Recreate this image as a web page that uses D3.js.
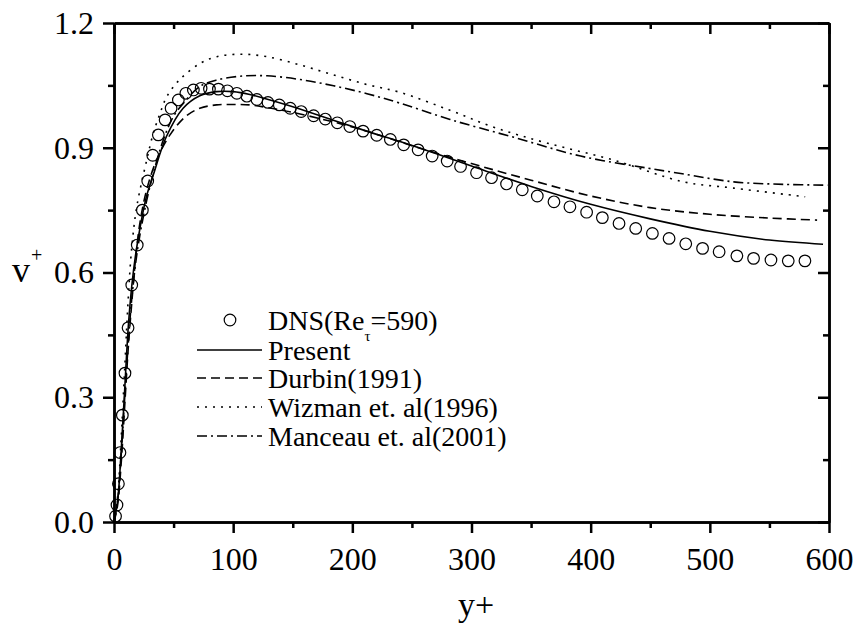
<!DOCTYPE html>
<html><head><meta charset="utf-8">
<script src="https://cdn.jsdelivr.net/npm/d3@7"></script>
<style>body{margin:0;background:#fff}svg{display:block}</style>
</head><body>
<svg id="chart" width="861" height="630"></svg>
<script>
// ---- data ----
const xTicks = [0, 100, 200, 300, 400, 500, 600];
const xMinor = [50, 150, 250, 350, 450, 550];
const yTicks = [0.0, 0.3, 0.6, 0.9, 1.2];
const yMinor = [0.15, 0.45, 0.75, 1.05];

const dnsX = [1.3,2.5,3.7,5.0,7.0,9.2,11.8,14.9,19.5,23.8,28.3,32.5,37.2,42.9,47.9,54.0,60.3,66.6,73.1,80.1,87.6,95.2,103.1,111.5,119.9,129.2,138.7,147.9,157.1,167.5,177.3,187.4,197.9,209.0,220.5,231.9,243.1,255.2,267.0,279.6,290.8,304.2,316.8,329.4,342.6,355.2,369.2,382.6,396.6,409.8,423.8,437.8,451.8,465.8,479.8,493.9,507.8,522.7,536.7,551.3,565.8,579.8];
const dnsY = [0.014,0.041,0.092,0.167,0.257,0.358,0.467,0.570,0.666,0.750,0.820,0.882,0.931,0.967,0.995,1.015,1.031,1.039,1.043,1.041,1.041,1.037,1.031,1.024,1.016,1.009,1.003,0.995,0.987,0.977,0.969,0.960,0.951,0.940,0.930,0.920,0.907,0.895,0.880,0.868,0.855,0.840,0.828,0.813,0.799,0.784,0.770,0.758,0.745,0.732,0.718,0.706,0.694,0.682,0.669,0.658,0.650,0.640,0.634,0.630,0.628,0.628];

const presentX = [0,3,6,9,12,15,18,22,27,33,44,58,72,86,100,114,128,156,184,212,240,270,300,350,400,450,500,550,595];
const presentY = [0,0.05,0.17,0.32,0.47,0.57,0.64,0.71,0.78,0.835,0.927,0.995,1.025,1.035,1.035,1.028,1.017,0.993,0.966,0.940,0.915,0.886,0.856,0.807,0.764,0.729,0.699,0.678,0.668];

const durbinX = [0,3,6,9,12,15,18,21.8,27.5,35.8,47,60,72,86,100,114,128,150,200,250,300,350,400,450,500,550,590];
const durbinY = [0,0.04,0.14,0.28,0.42,0.53,0.63,0.72,0.80,0.871,0.931,0.975,0.995,1.003,1.004,1.003,0.997,0.985,0.950,0.905,0.862,0.822,0.784,0.756,0.740,0.731,0.726];

const wizmanX = [0,3,6,9,12,14.9,19.1,27.5,33,38.7,44.3,55.5,72.3,86.3,105.9,128.3,156.3,184.3,212.3,240.3,282,320,363.7,419.6,478,520,580];
const wizmanY = [0,0.06,0.20,0.37,0.54,0.66,0.758,0.871,0.935,0.983,1.023,1.065,1.103,1.119,1.125,1.119,1.099,1.075,1.052,1.033,0.990,0.948,0.911,0.870,0.818,0.803,0.782];

const manceauX = [0,3,6,9,12,15,20,27.5,34.5,41.4,49.8,59.7,72.3,86.3,105.9,128.3,156.3,184.3,212.3,240.3,282,335.6,391.6,447.6,475.6,520,562,599];
const manceauY = [0,0.05,0.16,0.30,0.43,0.54,0.66,0.774,0.854,0.919,0.975,1.012,1.048,1.063,1.072,1.073,1.064,1.049,1.030,1.007,0.968,0.925,0.880,0.851,0.838,0.818,0.812,0.810];

const seriesNames = ["Present", "Durbin(1991)", "Wizman et. al(1996)", "Manceau et. al(2001)"];

// ---- chart ----
const svg = d3.select("#chart");
const FONT = "'Liberation Serif','Times New Roman',serif";
const xs = d3.scaleLinear().domain([0, 600]).range([114, 829]);
const ys = d3.scaleLinear().domain([0, 1.2]).range([522, 23]);

const series = [
  {name: seriesNames[0], xv: presentX, yv: presentY, dash: null},
  {name: seriesNames[1], xv: durbinX, yv: durbinY, dash: "9,5"},
  {name: seriesNames[2], xv: wizmanX, yv: wizmanY, dash: "2,6"},
  {name: seriesNames[3], xv: manceauX, yv: manceauY, dash: "10,4,2,4"}
];

const lineGen = d3.line().x(d => xs(d[0])).y(d => ys(d[1])).curve(d3.curveCatmullRom.alpha(0.5));

series.forEach(s => {
  svg.append("path")
    .datum(s.xv.map((v, i) => [v, s.yv[i]]))
    .attr("d", lineGen)
    .attr("fill", "none")
    .attr("stroke", "#000")
    .attr("stroke-width", 1.6)
    .attr("stroke-dasharray", s.dash);
});

svg.append("g").selectAll("circle")
  .data(dnsX.map((v, i) => [v, dnsY[i]]))
  .join("circle")
  .attr("cx", d => xs(d[0])).attr("cy", d => ys(d[1]))
  .attr("r", 5.8)
  .attr("fill", "none").attr("stroke", "#000").attr("stroke-width", 1.2);

// axes
function styleAxis(g) {
  g.select(".domain").attr("stroke-width", 2.5);
  g.selectAll(".tick line").attr("stroke-width", 2.5);
  g.selectAll("text").attr("font-family", FONT).attr("font-size", 32).attr("fill", "#000");
}
const gBottom = svg.append("g").attr("transform", `translate(0,${ys(0)})`)
  .call(d3.axisBottom(xs).tickValues(xTicks).tickSize(11).tickPadding(14).tickSizeOuter(0).tickFormat(d3.format("d")));
styleAxis(gBottom);
const gBottomMinor = svg.append("g").attr("transform", `translate(0,${ys(0)})`)
  .call(d3.axisBottom(xs).tickValues(xMinor).tickSize(6).tickSizeOuter(0).tickFormat(""));
styleAxis(gBottomMinor);

const gTop = svg.append("g").attr("transform", `translate(0,${ys(1.2)})`)
  .call(d3.axisTop(xs).tickValues(xTicks).tickSize(-11).tickSizeOuter(0).tickFormat(""));
styleAxis(gTop);
const gTopMinor = svg.append("g").attr("transform", `translate(0,${ys(1.2)})`)
  .call(d3.axisTop(xs).tickValues(xMinor).tickSize(-6).tickSizeOuter(0).tickFormat(""));
styleAxis(gTopMinor);

const gLeft = svg.append("g").attr("transform", `translate(${xs(0)},0)`)
  .call(d3.axisLeft(ys).tickValues(yTicks).tickSize(11).tickPadding(9).tickSizeOuter(0).tickFormat(d3.format(".1f")));
styleAxis(gLeft);
const gLeftMinor = svg.append("g").attr("transform", `translate(${xs(0)},0)`)
  .call(d3.axisLeft(ys).tickValues(yMinor).tickSize(6).tickSizeOuter(0).tickFormat(""));
styleAxis(gLeftMinor);

const gRight = svg.append("g").attr("transform", `translate(${xs(600)},0)`)
  .call(d3.axisRight(ys).tickValues(yTicks).tickSize(-11).tickSizeOuter(0).tickFormat(""));
styleAxis(gRight);
const gRightMinor = svg.append("g").attr("transform", `translate(${xs(600)},0)`)
  .call(d3.axisRight(ys).tickValues(yMinor).tickSize(-6).tickSizeOuter(0).tickFormat(""));
styleAxis(gRightMinor);

// axis titles
svg.append("text").attr("x", 476).attr("y", 616).attr("text-anchor", "middle")
  .attr("font-family", FONT).attr("font-size", 34).text("y+");
svg.append("text").attr("x", 12).attr("y", 282)
  .attr("font-family", FONT).attr("font-size", 36).text("v");
svg.append("text").attr("x", 31).attr("y", 262)
  .attr("font-family", FONT).attr("font-size", 20).text("+");

// legend
const LF = 28;
svg.append("circle").attr("cx", 230).attr("cy", 320).attr("r", 5.8)
  .attr("fill", "none").attr("stroke", "#000").attr("stroke-width", 1.2);
const dnsT = svg.append("text").attr("x", 268).attr("y", 320).attr("dy", "0.35em")
  .attr("font-family", FONT).attr("font-size", LF);
dnsT.append("tspan").text("DNS(Re");
dnsT.append("tspan").attr("font-size", 15).attr("dy", 11).text("τ");
dnsT.append("tspan").attr("dy", -11).text("=590)");

const legY = [350, 378, 407, 436];
series.forEach((s, i) => {
  svg.append("line").attr("x1", 197).attr("x2", 262).attr("y1", legY[i]).attr("y2", legY[i])
    .attr("stroke", "#000").attr("stroke-width", 1.6).attr("stroke-dasharray", s.dash);
  svg.append("text").attr("x", 268).attr("y", legY[i]).attr("dy", "0.35em")
    .attr("font-family", FONT).attr("font-size", LF).text(s.name);
});
</script>
</body></html>
